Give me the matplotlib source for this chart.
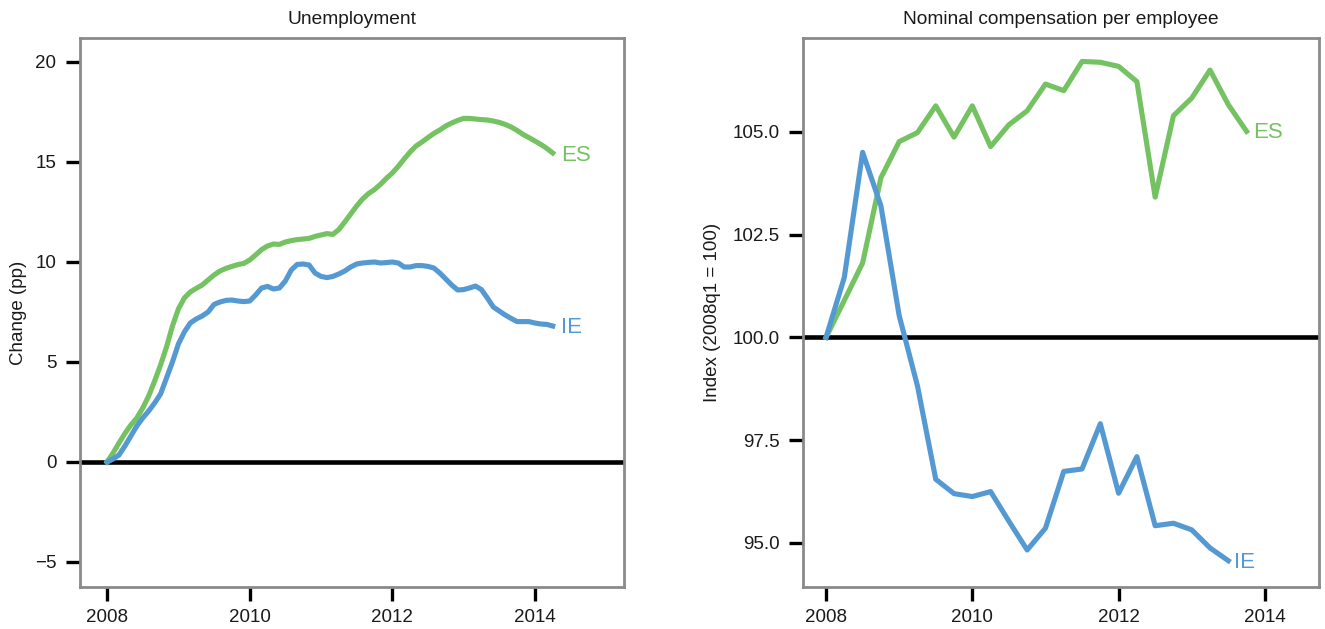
import numpy as np
import matplotlib
matplotlib.use("Agg")
import matplotlib.pyplot as plt

plt.rcParams['font.family'] = ['Liberation Sans', 'DejaVu Sans']

# Unemployment: monthly change since Jan 2008 (pp), Jan 2008 .. Apr 2014
unemp_start = 2008.0
unemp_es = [0.0, 0.45, 0.95, 1.43, 1.85, 2.2, 2.7, 3.3, 4.05, 4.85, 5.75, 6.8,
            7.65, 8.2, 8.5, 8.68, 8.85, 9.1, 9.35, 9.55, 9.68, 9.78, 9.87, 9.93,
            10.1, 10.35, 10.62, 10.8, 10.9, 10.88, 11.0, 11.07, 11.12, 11.15, 11.18, 11.28,
            11.35, 11.42, 11.38, 11.62, 12.0, 12.4, 12.8, 13.15, 13.42, 13.62, 13.88, 14.18,
            14.45, 14.78, 15.15, 15.5, 15.8, 16.0, 16.22, 16.43, 16.6, 16.8, 16.95, 17.08,
            17.18, 17.18, 17.15, 17.12, 17.1, 17.05, 16.98, 16.88, 16.75, 16.58, 16.38, 16.22,
            16.05, 15.88, 15.68, 15.45]
unemp_ie = [0.0, 0.15, 0.35, 0.8, 1.3, 1.8, 2.2, 2.55, 2.95, 3.4, 4.2, 5.0,
            5.9, 6.5, 6.95, 7.15, 7.3, 7.5, 7.88, 8.0, 8.08, 8.1, 8.05, 8.02,
            8.05, 8.35, 8.7, 8.78, 8.65, 8.7, 9.05, 9.6, 9.88, 9.9, 9.85, 9.45,
            9.28, 9.22, 9.28, 9.4, 9.55, 9.75, 9.9, 9.95, 9.98, 10.0, 9.95, 9.97,
            10.0, 9.95, 9.75, 9.75, 9.82, 9.82, 9.78, 9.7, 9.45, 9.15, 8.85, 8.6,
            8.62, 8.7, 8.8, 8.62, 8.2, 7.75, 7.55, 7.35, 7.18, 7.02, 7.02, 7.02,
            6.95, 6.9, 6.88, 6.8]

# Nominal compensation per employee: quarterly index (2008q1 = 100)
comp_start = 2008.0
comp_es = [100.0, 100.9, 101.81, 103.88, 104.76, 104.98, 105.63, 104.87,
           105.63, 104.64, 105.17, 105.51, 106.16, 106.0, 106.71, 106.69,
           106.59, 106.22, 103.41, 105.39, 105.82, 106.5, 105.66, 105.01]
comp_ie = [100.0, 101.46, 104.5, 103.2, 100.53, 98.82, 96.55, 96.2,
           96.13, 96.25, 95.53, 94.83, 95.36, 96.74, 96.8, 97.9,
           96.21, 97.1, 95.42, 95.48, 95.32, 94.88, 94.57]

titles = ["Unemployment", "Nominal compensation per employee"]
ylabels = ["Change (pp)", "Index (2008q1 = 100)"]
xticks = [2008, 2010, 2012, 2014]
left_yticks = [-5, 0, 5, 10, 15, 20]
right_yticks = [95.0, 97.5, 100.0, 102.5, 105.0]

GREEN = "#74c262"
BLUE = "#5599d3"
TXT = "#1a1a1a"

fig = plt.figure(figsize=(13.25, 6.29), dpi=100)
ax1 = fig.add_axes([80/1325, 1-587/629, (624-80)/1325, (587-38)/629])
ax2 = fig.add_axes([803/1325, 1-587/629, (1319-803)/1325, (587-38)/629])

t_u = unemp_start + np.arange(len(unemp_es)) / 12.0
t_ce = comp_start + np.arange(len(comp_es)) / 4.0
t_ci = comp_start + np.arange(len(comp_ie)) / 4.0

def style(ax, title, ylabel):
    for s in ax.spines.values():
        s.set_color("#8a8a8a")
        s.set_linewidth(2.0)
    ax.tick_params(direction="out", length=10, width=2.4, color="black",
                   labelsize=13.5, labelcolor=TXT)
    ax.tick_params(axis="y", pad=7)
    ax.tick_params(axis="x", pad=6)
    ax.set_title(title, fontsize=13.8, color=TXT, pad=10)
    ax.set_ylabel(ylabel, fontsize=13.5, color=TXT)
    ax.set_xticks(xticks)

# Left panel
ax1.axhline(0, color="black", lw=3.3, zorder=1)
ax1.plot(t_u, unemp_es, color=GREEN, lw=3.7, zorder=2)
ax1.plot(t_u, unemp_ie, color=BLUE, lw=3.7, zorder=3)
ax1.set_xlim(2007.62, 2015.25)
ax1.set_ylim(-6.25, 21.2)
ax1.set_yticks(left_yticks)
ax1.set_yticklabels([("\u2212" if v < 0 else "") + str(abs(v)) for v in left_yticks])
style(ax1, titles[0], ylabels[0])
ax1.yaxis.set_label_coords(-0.098, 0.5)
ax1.annotate("ES", (t_u[-1], unemp_es[-1]), xytext=(6, -2), textcoords="offset points",
             va="center", ha="left", color=GREEN, fontsize=16)
ax1.annotate("IE", (t_u[-1], unemp_ie[-1]), xytext=(6, -1), textcoords="offset points",
             va="center", ha="left", color=BLUE, fontsize=16)

# Right panel
ax2.axhline(100, color="black", lw=3.3, zorder=1)
ax2.plot(t_ce, comp_es, color=GREEN, lw=3.7, zorder=2)
ax2.plot(t_ci, comp_ie, color=BLUE, lw=3.7, zorder=3)
ax2.set_xlim(2007.685, 2014.74)
ax2.set_ylim(93.93, 107.28)
ax2.set_yticks(right_yticks)
ax2.set_yticklabels([f"{v:.1f}" for v in right_yticks])
style(ax2, titles[1], ylabels[1])
ax2.yaxis.set_label_coords(-0.158, 0.5)
ax2.annotate("ES", (t_ce[-1], comp_es[-1]), xytext=(5, -1), textcoords="offset points",
             va="center", ha="left", color=GREEN, fontsize=16)
ax2.annotate("IE", (t_ci[-1], comp_ie[-1]), xytext=(4, -1), textcoords="offset points",
             va="center", ha="left", color=BLUE, fontsize=16)

fig.savefig("out.png", dpi=100)
